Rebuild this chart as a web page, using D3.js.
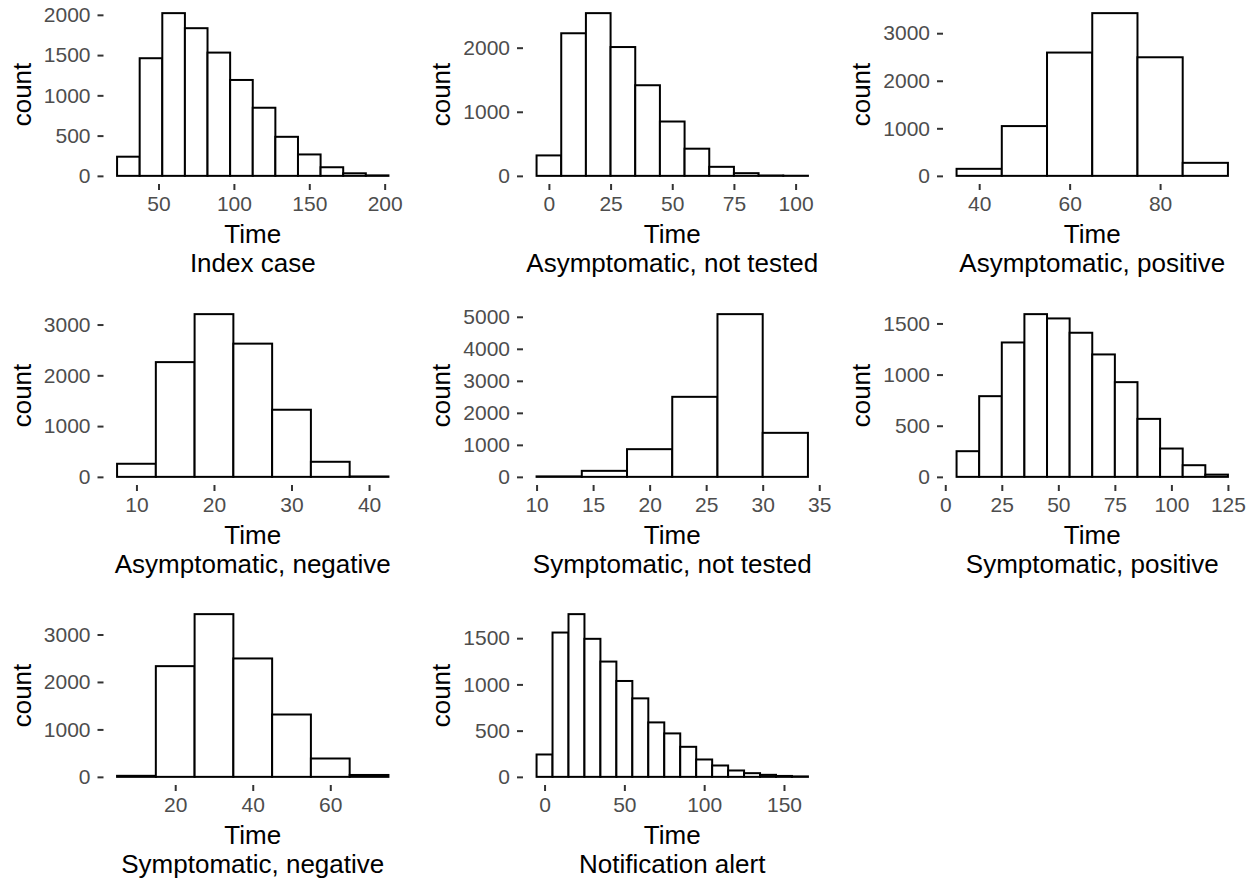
<!DOCTYPE html>
<html>
<head>
<meta charset="utf-8">
<script src="https://cdn.jsdelivr.net/npm/d3@7"></script>
<style>
  html, body { margin: 0; padding: 0; background: #fff; }
  svg { display: block; }
  text { font-family: "Liberation Sans", Arial, sans-serif; }
</style>
</head>
<body>
<svg id="chart" width="1258" height="882"></svg>
<script>
// ---------- data ----------
const panelTitles = [
  "Index case", "Asymptomatic, not tested", "Asymptomatic, positive",
  "Asymptomatic, negative", "Symptomatic, not tested", "Symptomatic, positive",
  "Symptomatic, negative", "Notification alert"
];
const binStarts = [22.5, -5, 35, 7.5, 10, 5, 5, -5];
const binWidths = [15, 10, 10, 5, 4, 10, 10, 10];

const countsIndexCase       = [238, 1461, 2021, 1834, 1531, 1191, 846, 485, 266, 107, 32, 6];
const countsAsymNotTested   = [319, 2225, 2539, 2010, 1414, 848, 424, 141, 42, 6, 2];
const countsAsymPositive    = [148, 1047, 2593, 3422, 2494, 274];
const countsAsymNegative    = [258, 2260, 3205, 2624, 1322, 297, 8];
const countsSympNotTested   = [15, 188, 865, 2500, 5083, 1375];
const countsSympPositive    = [251, 789, 1314, 1591, 1549, 1409, 1197, 926, 567, 277, 114, 22];
const countsSympNegative    = [22, 2333, 3429, 2495, 1314, 387, 40];
const countsNotification    = [242, 1561, 1760, 1493, 1247, 1037, 849, 589, 470, 325, 188, 123, 69, 40, 22, 10, 5];

const panelCounts = [countsIndexCase, countsAsymNotTested, countsAsymPositive, countsAsymNegative,
                     countsSympNotTested, countsSympPositive, countsSympNegative, countsNotification];

const xTicksList = [
  [50, 100, 150, 200], [0, 25, 50, 75, 100], [40, 60, 80], [10, 20, 30, 40],
  [10, 15, 20, 25, 30, 35], [0, 25, 50, 75, 100, 125], [20, 40, 60], [0, 50, 100, 150]
];
const yTicksList = [
  [0, 500, 1000, 1500, 2000], [0, 1000, 2000], [0, 1000, 2000, 3000], [0, 1000, 2000, 3000],
  [0, 1000, 2000, 3000, 4000, 5000], [0, 500, 1000, 1500], [0, 1000, 2000, 3000], [0, 500, 1000, 1500]
];
const xTitle = "Time";
const yTitle = "count";

// ---------- layout ----------
const colLefts = [103.5, 523, 943];
const rowTops = [5, 306, 606];
const panelW = 298.5;
const panelH = 179;

const svg = d3.select("#chart");

panelCounts.forEach((counts, i) => {
  const col = i % 3, row = Math.floor(i / 3);
  const g = svg.append("g").attr("transform", `translate(${colLefts[col]},${rowTops[row]})`);

  const bins = counts.map((c, j) => ({
    x0: binStarts[i] + j * binWidths[i],
    x1: binStarts[i] + (j + 1) * binWidths[i],
    count: c
  }));
  const xmin = bins[0].x0, xmax = bins[bins.length - 1].x1;
  const xpad = (xmax - xmin) * 0.05;
  const ymax = d3.max(counts);
  const ypad = ymax * 0.05;

  const x = d3.scaleLinear().domain([xmin - xpad, xmax + xpad]).range([0, panelW]);
  const y = d3.scaleLinear().domain([-ypad, ymax + ypad]).range([panelH, 0]);

  // bars
  g.selectAll("rect.bar").data(bins).enter().append("rect")
    .attr("class", "bar")
    .attr("x", d => x(d.x0))
    .attr("width", d => x(d.x1) - x(d.x0))
    .attr("y", d => y(d.count))
    .attr("height", d => y(0) - y(d.count))
    .attr("fill", "#ffffff")
    .attr("stroke", "#000000")
    .attr("stroke-width", 2);

  // y axis
  const yAxis = d3.axisLeft(y).tickValues(yTicksList[i]).tickSize(6).tickPadding(7).tickFormat(d3.format("d"));
  const ya = g.append("g").call(yAxis);
  ya.select(".domain").remove();
  ya.selectAll(".tick line").attr("stroke", "#333333").attr("stroke-width", 2);
  ya.selectAll(".tick text").attr("fill", "#4D4D4D").attr("font-size", 21)
    .style("font-family", '"Liberation Sans", Arial, sans-serif');

  // x axis
  const xAxis = d3.axisBottom(x).tickValues(xTicksList[i]).tickSize(6).tickPadding(6).tickFormat(d3.format("d"));
  const xa = g.append("g").attr("transform", `translate(0,${panelH})`).call(xAxis);
  xa.select(".domain").remove();
  xa.selectAll(".tick line").attr("stroke", "#333333").attr("stroke-width", 2);
  xa.selectAll(".tick text").attr("fill", "#4D4D4D").attr("font-size", 21)
    .style("font-family", '"Liberation Sans", Arial, sans-serif');

  // titles
  g.append("text").attr("x", panelW / 2).attr("y", panelH + 58.5)
    .attr("text-anchor", "middle").attr("font-size", 26).attr("fill", "#000").text(xTitle);
  g.append("text").attr("x", panelW / 2).attr("y", panelH + 87.5)
    .attr("text-anchor", "middle").attr("font-size", 26).attr("fill", "#000").text(panelTitles[i]);
  g.append("text")
    .attr("transform", `translate(${-73},${panelH / 2}) rotate(-90)`)
    .attr("text-anchor", "middle").attr("font-size", 26).attr("fill", "#000").text(yTitle);
});
</script>
</body>
</html>
